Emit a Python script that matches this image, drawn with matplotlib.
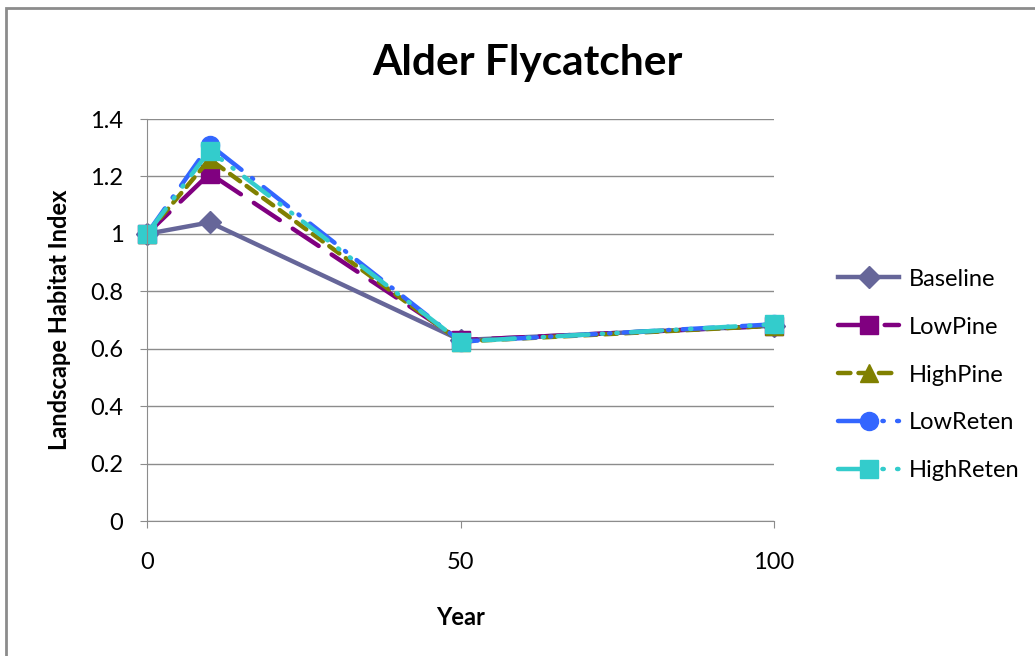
import matplotlib.pyplot as plt
from matplotlib.patches import Rectangle

years = [0, 10, 50, 100]
baseline = [1.0, 1.04, 0.63, 0.68]
low_pine = [1.0, 1.21, 0.63, 0.68]
high_pine = [1.0, 1.26, 0.625, 0.68]
low_reten = [1.0, 1.31, 0.625, 0.685]
high_reten = [1.0, 1.29, 0.625, 0.685]

series = [
    ('Baseline', baseline, '#666699', 'D', 11, '-'),
    ('LowPine', low_pine, '#800080', 's', 13, (0, (7, 3.5))),
    ('HighPine', high_pine, '#808000', '^', 13, (0, (2.8, 1.8))),
    ('LowReten', low_reten, '#3366FF', 'o', 13, (0, (7, 3, 0.3, 3))),
    ('HighReten', high_reten, '#33CCCC', 's', 13, (0, (7, 3, 0.3, 3, 0.3, 3))),
]

plt.rcParams['font.family'] = ['Lato', 'DejaVu Sans']

fig = plt.figure(figsize=(10.35, 6.56), dpi=100)
# outer chart frame
fig.patches.append(Rectangle((6 / 1035, -0.1), 1.2, 1 - 8 / 656 + 0.1,
                             transform=fig.transFigure, fill=False,
                             edgecolor='#8c8c8c', linewidth=2))

ax = fig.add_axes([147 / 1035, 135 / 656, 627 / 1035, 402 / 656])

for name, vals, color, marker, ms, ls in series:
    ax.plot(years, vals, color=color, linestyle=ls, linewidth=3.2,
            marker=marker, markersize=ms, label=name,
            dash_capstyle='round', clip_on=False)

ax.set_xlim(0, 100)
ax.set_ylim(0, 1.4)
ax.set_xticks([0, 50, 100])
ax.set_yticks([0, 0.2, 0.4, 0.6, 0.8, 1.0, 1.2, 1.4])
ax.set_yticklabels(['0', '0.2', '0.4', '0.6', '0.8', '1', '1.2', '1.4'])
ax.yaxis.grid(True, color='#8c8c8c', linewidth=1)
ax.set_axisbelow(True)
for side in ['top', 'right']:
    ax.spines[side].set_visible(False)
for side in ['left', 'bottom']:
    ax.spines[side].set_color('#8c8c8c')
ax.tick_params(axis='both', colors='#8c8c8c', labelcolor='black',
               labelsize=17, length=5, direction='out')
ax.tick_params(axis='x', pad=17)
ax.tick_params(axis='y', pad=12)

fig.text(527 / 1035, 1 - 75 / 656, 'Alder Flycatcher', fontsize=30.5,
         fontweight='bold', ha='center', va='baseline')
ax.set_xlabel('Year', fontsize=17, fontweight='bold', labelpad=24)
ax.set_ylabel('Landscape Habitat Index', fontsize=17, fontweight='bold',
              labelpad=14)

ax.legend(loc='center left', bbox_to_anchor=(1.102, 0.363), frameon=False,
          fontsize=17, handlelength=2.6, labelspacing=1.14,
          handletextpad=0.42, borderpad=0, borderaxespad=0)

fig.savefig('out.png', dpi=100)
